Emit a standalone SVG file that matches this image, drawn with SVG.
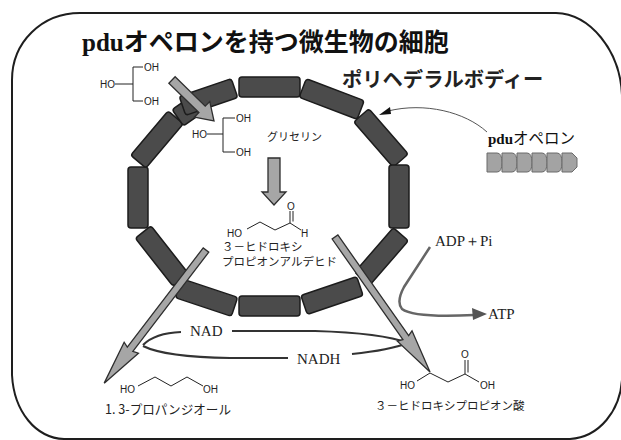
<svg xmlns="http://www.w3.org/2000/svg" width="621" height="440" viewBox="0 0 621 440">
<defs>
<style>
.seg{fill:#4b4b4b;stroke:#1c1c1c;stroke-width:1.5}
.garrow{fill:#a6a6a6;stroke:#2e2e2e;stroke-width:1.3;stroke-linejoin:miter}
.bond{fill:none;stroke:#222;stroke-width:1}
.atom{font-family:"Liberation Sans",Arial,sans-serif;font-size:10px;fill:#222}
.jp{font-family:"Noto Sans CJK JP",sans-serif;fill:#222}
.serif{font-family:"Liberation Serif","Times New Roman",serif;fill:#222}
.cof{fill:none;stroke:#333;stroke-width:2.2}
.gene{fill:#a3a3a3;stroke:#6a6a6a;stroke-width:1}
</style>
</defs>
<rect width="621" height="440" fill="#fff"/>

<!-- cell outline -->
<path id="cell" d="M80,13 H556 C590,14 620,50 622,95 V380 C620,410 600,437 570,439 H64 C36,438 14,412 12,375 V80 C12,42 42,13 80,13 Z" fill="none" stroke="#1e1e1e" stroke-width="2"/>

<g id="title">
<text x="82" y="51" font-size="25" font-weight="bold" fill="#111"><tspan font-family="Liberation Serif,serif">pdu</tspan><tspan font-family="Noto Sans CJK JP,sans-serif">オペロンを持つ微生物の細胞</tspan></text>
</g>

<!-- polyhedral body shell -->
<g id="shell">
<rect class="seg" x="-30.5" y="-10" width="61" height="20" rx="3" transform="translate(269.5,87)"/>
<rect class="seg" x="-31" y="-10" width="62" height="20" rx="3" transform="translate(331.7,99) rotate(20.8)"/>
<rect class="seg" x="-30" y="-10" width="60" height="20" rx="3" transform="translate(381,138) rotate(48.9)"/>
<rect class="seg" x="-31.5" y="-10" width="63" height="20" rx="3" transform="translate(399,196.5) rotate(90)"/>
<rect class="seg" x="-29.5" y="-10" width="59" height="20" rx="3" transform="translate(381.5,256.5) rotate(-49.1)"/>
<rect class="seg" x="-29.5" y="-10" width="59" height="20" rx="3" transform="translate(332,295.5) rotate(-18.7)"/>
<rect class="seg" x="-30.5" y="-10" width="61" height="20" rx="3" transform="translate(269.5,306)"/>
<rect class="seg" x="-29.5" y="-10" width="59" height="20" rx="3" transform="translate(206.5,297.5) rotate(18.4)"/>
<rect class="seg" x="-30.5" y="-10" width="61" height="20" rx="3" transform="translate(162,256) rotate(51.9)"/>
<rect class="seg" x="-30.5" y="-10" width="61" height="20" rx="3" transform="translate(138,197.5) rotate(90)"/>
<rect class="seg" x="-29" y="-10" width="58" height="20" rx="3" transform="translate(157,139.5) rotate(-49.8)"/>
<rect class="seg" x="-10" y="-10" width="20" height="20" rx="3" transform="translate(186,112) rotate(-35)"/>
<rect class="seg" x="-27.5" y="-10" width="55" height="20" rx="3" transform="translate(208.5,97) rotate(-18.9)"/>
</g>

<g id="label-shell">
<text class="jp" x="342" y="87" font-size="20.3" font-weight="bold" fill="#111">ポリヘデラルボディー</text>
</g>

<!-- glycerol outside -->
<g id="glycerol-out">
<path class="bond" d="M115,84 H133 M143,67 H133 V101 H143"/>
<text class="atom" x="100" y="88">HO</text>
<text class="atom" x="144" y="71">OH</text>
<text class="atom" x="144" y="105">OH</text>
</g>

<!-- glycerol inside -->
<g id="glycerol-in">
<path class="bond" d="M207,134 H223 M235,118 H223 V152 H235"/>
<text class="atom" x="192" y="138">HO</text>
<text class="atom" x="236" y="122">OH</text>
<text class="atom" x="236" y="156">OH</text>
<text class="jp" x="267" y="141" font-size="11">グリセリン</text>
</g>

<!-- 3-hydroxypropionaldehyde -->
<g id="hpa">
<path class="bond" d="M247,229 L260,222 L275,230 L290,223 L301,230 M290,223 V211 M293,221.5 V211"/>
<text class="atom" x="227" y="236.5">HO</text>
<text class="atom" x="287" y="210">O</text>
<text class="atom" x="301" y="236.5">H</text>
<text class="jp" x="222" y="251" font-size="11.5">３－ヒドロキシ</text>
<text class="jp" x="222" y="266" font-size="11.5">プロピオンアルデヒド</text>
</g>

<!-- 1,3-propanediol -->
<g id="pdo">
<path class="bond" d="M138,386 L155,377 L171,386 L187,377 L203,386"/>
<text class="atom" x="120" y="393">HO</text>
<text class="atom" x="203" y="393">OH</text>
<text class="jp" x="105" y="414" font-size="12.6">1. 3-プロパンジオール</text>
</g>

<!-- 3-hydroxypropionic acid -->
<g id="hp">
<path class="bond" d="M417,381 L430,373 L448,382 L465,374 L479,382 M465,374 V360 M468,372.5 V360"/>
<text class="atom" x="400" y="389">HO</text>
<text class="atom" x="461" y="358">O</text>
<text class="atom" x="480" y="389">OH</text>
<text class="jp" x="375" y="410" font-size="11.5">３－ヒドロキシプロピオン酸</text>
</g>

<!-- pdu operon genes -->
<g id="operon">
<text x="488" y="144" font-size="15" fill="#111"><tspan font-family="Liberation Serif,serif" font-weight="bold">pdu</tspan><tspan font-family="Noto Sans CJK JP,sans-serif" font-size="15.5">オペロン</tspan></text>
<path class="gene" d="M487,153 h10 q5,0 5,9.5 q0,9.5 -5,9.5 h-10 z"/>
<path class="gene" d="M502,153 h10 q5,0 5,9.5 q0,9.5 -5,9.5 h-10 z"/>
<path class="gene" d="M517,153 h10 q5,0 5,9.5 q0,9.5 -5,9.5 h-10 z"/>
<path class="gene" d="M532,153 h10 q5,0 5,9.5 q0,9.5 -5,9.5 h-10 z"/>
<path class="gene" d="M547,153 h10 q5,0 5,9.5 q0,9.5 -5,9.5 h-10 z"/>
<path class="gene" d="M562,153 h10 l5,5 v9 l-5,5 h-10 z"/>
</g>

<g id="cofactor-labels">
<text class="serif" x="190" y="336" font-size="15">NAD</text>
<text class="serif" x="297" y="364" font-size="15">NADH</text>
<text class="serif" x="435" y="246" font-size="15">ADP＋Pi</text>
<text class="serif" x="488" y="319" font-size="15">ATP</text>
</g>

<!-- connectors -->
<g id="connectors">
<!-- operon to shell -->
<path d="M487,132 C465,112 425,102 388,111" fill="none" stroke="#555" stroke-width="1"/>
<polygon points="379,115 390,107 391,114" fill="#111"/>
<!-- NAD / NADH cycle -->
<path class="cof" d="M143,345 Q155,333 181,332"/>
<path class="cof" d="M232,331 L315,331 Q382,333 408,343"/>
<path class="cof" d="M143,346 Q165,357 230,358 L288,358"/>
<path class="cof" d="M352,354 Q390,350 408,343"/>
<!-- ADP + Pi to ATP -->
<path d="M430,247 L404,287 Q396,302 402,309 Q414,318 474,315" fill="none" stroke="#666" stroke-width="2.5"/>
<polygon points="487,314 472,308 473,320" fill="#555"/>
<!-- glycerol uptake -->
<polygon class="garrow" transform="translate(172,80) rotate(44.3)" points="0,-4.5 42,-4.5 42,-11 58.7,0 42,11 42,4.5 0,4.5"/>
<!-- glycerol to aldehyde -->
<polygon class="garrow" points="268,158 280,158 280,192 286,192 274,205 262,192 268,192"/>
<!-- aldehyde to 1,3-propanediol -->
<polygon class="garrow" transform="translate(206,250) rotate(127.4)" points="0,-3.5 125,-3.5 123,-9 167.6,0 123,9 125,3.5 0,3.5"/>
<!-- aldehyde to 3-hydroxypropionic acid -->
<polygon class="garrow" transform="translate(335,237) rotate(54.86)" points="0,-3.5 123,-3.5 121,-9 165.1,0 121,9 123,3.5 0,3.5"/>
</g>
</svg>
